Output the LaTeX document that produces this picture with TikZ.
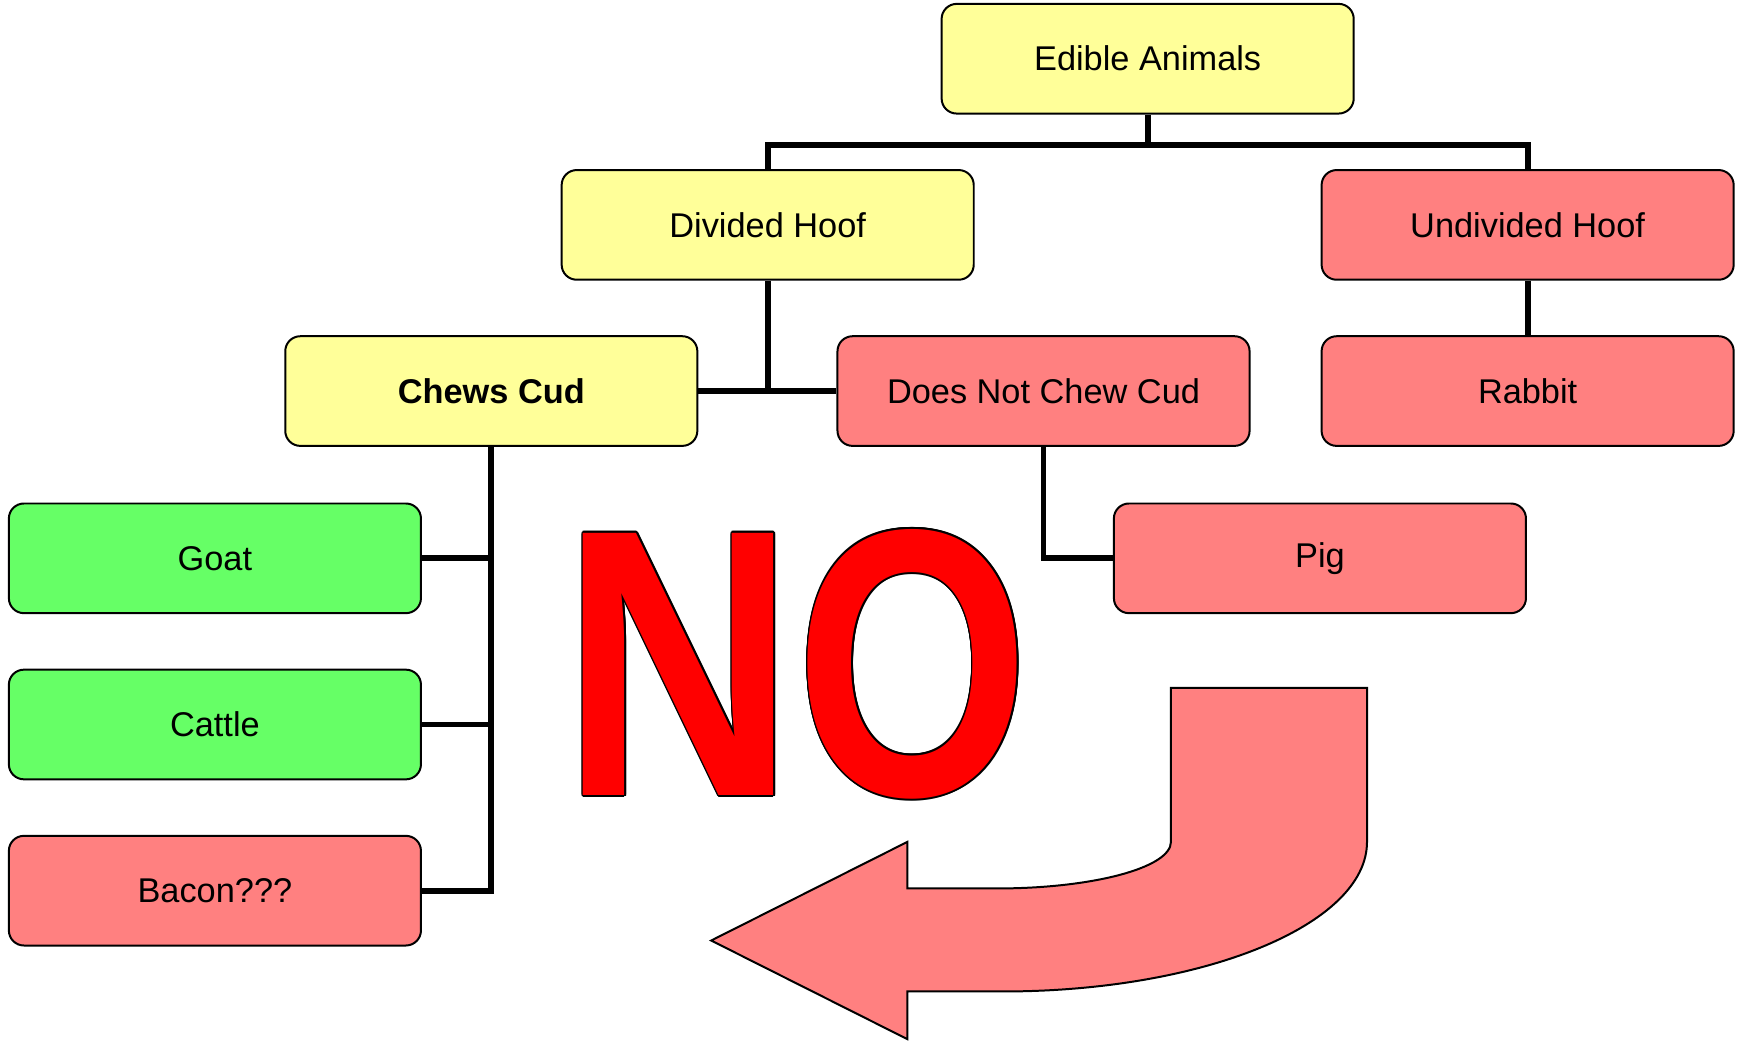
\documentclass[tikz,border=0pt]{standalone}
\usepackage{fontspec}
\setmainfont{Liberation Sans}
\usepackage{graphicx}
\definecolor{boxyellow}{HTML}{FFFF99}
\definecolor{boxred}{HTML}{FF8080}
\definecolor{boxgreen}{HTML}{66FF66}
\definecolor{nored}{HTML}{FF0000}
\newcommand{\noword}{\scalebox{0.85}[1]{N}\scalebox{0.79}[1]{O}}
\begin{document}
\begin{tikzpicture}[x=0.5pt,y=-0.5pt,
  box/.style={draw=black, line width=0.9pt, rounded corners=6.8pt,
    minimum width=186pt, minimum height=49.5pt, inner sep=0pt,
    font=\fontsize{15.5pt}{18pt}\selectfont},
  ybox/.style={box, fill=boxyellow},
  rbox/.style={box, fill=boxred},
  gbox/.style={box, fill=boxgreen},
  conn/.style={line width=2.6pt, line join=miter},
  bigtext/.style={anchor=base, inner sep=0pt, font=\fontsize{172pt}{172pt}\selectfont\bfseries}]
\useasboundingbox (0,0) rectangle (1568,943.3);

\node[ybox] (edible) at (1036,53) {Edible Animals};
\node[ybox] (divided) at (693,203) {Divided Hoof};
\node[rbox] (undivided) at (1379,203) {Undivided Hoof};
\node[ybox, font=\fontsize{15.5pt}{18pt}\selectfont\bfseries] (chews) at (443.5,353) {Chews Cud};
\node[rbox] (notchew) at (942,353) {Does Not Chew Cud};
\node[rbox] (rabbit) at (1379,353) {Rabbit};
\node[gbox] (goat) at (194,504) {Goat};
\node[gbox] (cattle) at (194,654) {Cattle};
\node[rbox] (bacon) at (194,804) {Bacon???};
\node[rbox] (pig) at (1191.5,504) {Pig};

\coordinate (topbar) at (1036,131);
\draw[conn] (edible.south) -- (topbar);
\draw[conn] (divided.north) |- (topbar) -| (undivided.north);
\draw[conn] (divided.south) -- (divided.south |- chews.east);
\draw[conn] (chews.east) -- (notchew.west);
\draw[conn] (undivided.south) -- (rabbit.north);
\draw[conn] (chews.south) |- (bacon.east);
\draw[conn] (goat.east) -- (goat.east -| chews.south);
\draw[conn] (cattle.east) -- (cattle.east -| chews.south);
\draw[conn] (notchew.south) |- (pig.west);

% big NO
\foreach \a in {0,30,...,330}{
  \node[bigtext, text=black] (noshadow\a) at ([shift={(\a:1.6)}]718.5,718) {\noword};
}
\node[bigtext, text=nored] (no) at (718.5,718) {\noword};

% curved arrow
\draw[fill=boxred, line width=0.9pt, line join=miter]
  (1057,621) -- (1234,621) -- (1234,760)
  arc[start angle=0, end angle=90, x radius=329, y radius=135]
  -- (819,895) -- (819,938) -- (642,849) -- (819,760) -- (819,802) -- (900,802)
  arc[start angle=90, end angle=0, x radius=157, y radius=42]
  -- cycle;
\end{tikzpicture}
\end{document}
